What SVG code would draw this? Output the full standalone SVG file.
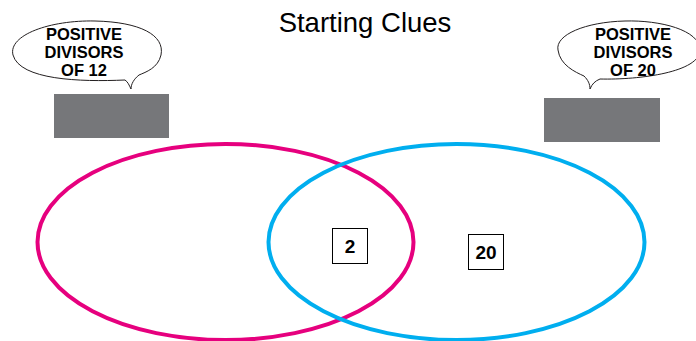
<svg xmlns="http://www.w3.org/2000/svg" width="696" height="341" viewBox="0 0 696 341">
<style>
.lbl{font-family:"Liberation Sans",Arial,sans-serif;font-weight:bold;font-size:16.5px;fill:#000;text-anchor:middle}
.bub{fill:#fff;stroke:#231f20;stroke-width:1}
.gray{fill:#76777a}
.num{fill:#fff;stroke:#000;stroke-width:1}
.numt{font-family:"Liberation Sans",Arial,sans-serif;font-weight:bold;font-size:19px;fill:#000;text-anchor:middle}
</style>
<rect width="696" height="341" fill="#fff"/>
<text x="365" y="32" font-family="Liberation Sans, Arial, sans-serif" font-size="27.5" text-anchor="middle" fill="#000">Starting Clues</text>
<g id="ellipses">
<ellipse id="set12" cx="225.5" cy="242" rx="188" ry="98" fill="none" stroke="#e6007e" stroke-width="4"/>
<ellipse id="set20" cx="456.5" cy="242" rx="188" ry="98" fill="none" stroke="#00aeef" stroke-width="4"/>
</g>
<g id="bubble12">
<path class="bub" d="M125 80 C80 82,20 80,13 55 C8 35,50 20,95 21 C140 22,165 35,161 55 C158 68,146 72,139 75 C134 79,131 84,131 89 C129 85,128 82,125 80 Z"/>
<text class="lbl" x="84" y="39.5">POSITIVE</text>
<text class="lbl" x="84" y="57.5">DIVISORS</text>
<text class="lbl" x="84" y="75.5">OF 12</text>
</g>
<g id="bubble20">
<path class="bub" d="M600 79 C640 80,700 72,700 50 C700 30,660 20,625 21 C585 22,555 35,558 50 C560 65,575 72,584 76 C588 80,590 84,590 89 C592 84,595 81,600 79 Z"/>
<text class="lbl" x="633" y="39.5">POSITIVE</text>
<text class="lbl" x="633" y="57.5">DIVISORS</text>
<text class="lbl" x="633" y="75.5">OF 20</text>
</g>
<g id="blank12"><rect class="gray" x="54" y="94" width="115" height="44"/></g>
<g id="blank20"><rect class="gray" x="544" y="98" width="116" height="44"/></g>
<g id="box2"><rect class="num" x="332.5" y="228.5" width="35" height="35"/><text class="numt" x="350" y="253">2</text></g>
<g id="box20"><rect class="num" x="468.5" y="234.5" width="35" height="35"/><text class="numt" x="486" y="259">20</text></g>
<g id="connectors"></g>
</svg>
